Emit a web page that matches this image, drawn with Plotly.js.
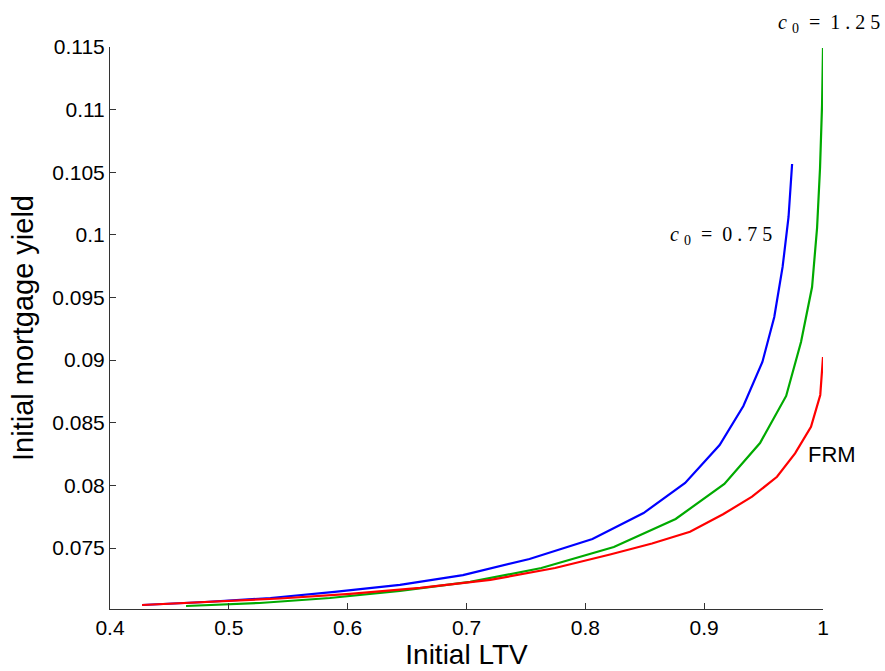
<!DOCTYPE html>
<html>
<head>
<meta charset="utf-8">
<script src="https://cdn.plot.ly/plotly-3.0.1.min.js"></script>
<style>html,body{margin:0;padding:0;background:#fff;}#chart{width:885px;height:671px;}</style>
</head>
<body>
<div id="chart"></div>
<script>
// c0 = 0.75 (blue)
const ltvBlue = [0.427, 0.480, 0.535, 0.589, 0.644, 0.697, 0.753, 0.806, 0.849, 0.884, 0.913, 0.933, 0.949, 0.959, 0.966, 0.971, 0.974];
const yieldBlue = [0.07045, 0.07069, 0.07101, 0.07149, 0.07205, 0.07284, 0.07412, 0.07572, 0.07779, 0.08019, 0.08322, 0.08634, 0.08985, 0.09344, 0.09744, 0.10143, 0.10566];
// c0 = 1.25 (green)
const ltvGreen = [0.464, 0.526, 0.585, 0.644, 0.703, 0.763, 0.824, 0.876, 0.917, 0.947, 0.969, 0.9815, 0.9908, 0.995, 0.9975, 0.9992, 1.0];
const yieldGreen = [0.07037, 0.07061, 0.07101, 0.07157, 0.07229, 0.07340, 0.07508, 0.07732, 0.08011, 0.08338, 0.08714, 0.09145, 0.09584, 0.10055, 0.10534, 0.11037, 0.11492];
// FRM (red)
const ltvRed = [0.427, 0.484, 0.543, 0.602, 0.661, 0.720, 0.7745, 0.8208, 0.8561, 0.8881, 0.9159, 0.9403, 0.9613, 0.9765, 0.9899, 0.9977, 1.0];
const yieldRed = [0.07045, 0.07069, 0.07097, 0.07133, 0.07181, 0.07245, 0.07340, 0.07448, 0.07536, 0.07630, 0.07769, 0.07910, 0.08069, 0.08256, 0.08468, 0.08722, 0.09025];

const xTickVals = [0.4, 0.5, 0.6, 0.7, 0.8, 0.9, 1];
const xTickText = ["0.4", "0.5", "0.6", "0.7", "0.8", "0.9", "1"];
const yTickVals = [0.075, 0.08, 0.085, 0.09, 0.095, 0.1, 0.105, 0.11, 0.115];
const yTickText = ["0.075", "0.08", "0.085", "0.09", "0.095", "0.1", "0.105", "0.11", "0.115"];

const lineW = 2.2;
const traces = [
  {x: ltvBlue, y: yieldBlue, mode: 'lines', line: {color: '#0000ff', width: lineW}, name: 'c0 = 0.75'},
  {x: ltvGreen, y: yieldGreen, mode: 'lines', line: {color: '#00aa00', width: lineW}, name: 'c0 = 1.25'},
  {x: ltvRed, y: yieldRed, mode: 'lines', line: {color: '#ff0000', width: lineW}, name: 'FRM'}
];

const sans = 'Liberation Sans, Arial, sans-serif';
const serif = 'Liberation Serif, DejaVu Serif, serif';
const axisFont = {family: sans, size: 21, color: '#000'};
const layout = {
  width: 885, height: 671,
  margin: {l: 110, r: 62, t: 47, b: 62, pad: 0},
  paper_bgcolor: '#fff', plot_bgcolor: '#fff',
  showlegend: false,
  xaxis: {
    range: [0.4, 1], tickvals: xTickVals, ticktext: xTickText,
    ticks: 'inside', ticklen: 6, tickcolor: '#333', tickwidth: 1,
    showline: true, linecolor: '#333', linewidth: 1, mirror: false,
    showgrid: false, zeroline: false, tickfont: axisFont,
    title: {text: 'Initial LTV', font: {family: sans, size: 28, color: '#000'}, standoff: 0}
  },
  yaxis: {
    range: [0.07013, 0.115], tickvals: yTickVals, ticktext: yTickText,
    ticks: 'inside', ticklen: 6, tickcolor: '#333', tickwidth: 1,
    showline: true, linecolor: '#333', linewidth: 1, mirror: false,
    showgrid: false, zeroline: false, tickfont: axisFont,
    title: {text: 'Initial mortgage yield', font: {family: sans, size: 29, color: '#000'}, standoff: 10}
  },
  annotations: [
    {x: 0.934, y: 1.0427, xref: 'paper', yref: 'paper', xanchor: 'left', yanchor: 'middle', showarrow: false,
     text: '<i>c</i> <sub>0</sub>  =  1 . 2 5', font: {family: serif, size: 20, color: '#000'}},
    {x: 0.8696, y: 0.09999, xref: 'x', yref: 'y', xanchor: 'left', yanchor: 'middle', showarrow: false,
     text: '<i>c</i> <sub>0</sub>  =  0 . 7 5', font: {family: serif, size: 20, color: '#000'}},
    {x: 0.9857, y: 0.08243, xref: 'x', yref: 'y', xanchor: 'left', yanchor: 'middle', showarrow: false,
     text: 'FRM', font: {family: sans, size: 22, color: '#000'}}
  ]
};

Plotly.newPlot('chart', traces, layout, {staticPlot: true, displayModeBar: false});
</script>
</body>
</html>
